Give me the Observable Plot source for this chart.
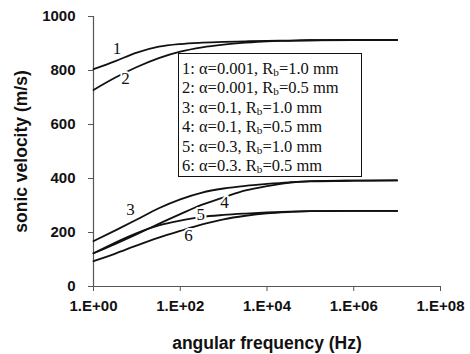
<!DOCTYPE html>
<html>
<head>
<meta charset="utf-8">
<script src="https://cdn.jsdelivr.net/npm/d3@7"></script>
<script src="https://cdn.jsdelivr.net/npm/@observablehq/plot@0.6"></script>
<style>
  body { margin: 0; background: #fff; }
  #wrap { position: relative; width: 470px; height: 354px; }
  #legend {
    position: absolute; left: 178px; top: 53px; width: 184px; height: 124px;
    box-sizing: border-box; border: 1.5px solid #111; background: #fff;
    font-family: "Liberation Serif", "Times New Roman", serif; font-size: 16.5px;
    line-height: 19.4px; padding: 5px 0 0 3px; color: #111; white-space: nowrap;
  }
  #legend sub { font-size: 0.68em; vertical-align: -0.2em; line-height: 0; }
</style>
</head>
<body>
<div id="wrap"><div id="legend"></div></div>
<script>
// angular frequency (Hz)
const freq = [1, 3.2, 10, 32, 100, 320, 1000, 3200, 1e4, 3.2e4, 1e5, 1e6, 1e7];
// sonic velocity (m/s) per curve
const v1 = [805, 835, 866, 888, 898, 903, 906, 908, 910, 911, 912, 913, 913];
const v2 = [728, 774, 813, 846, 870, 886, 896, 903, 908, 910, 912, 913, 913];
const v3 = [168, 208, 248, 290, 323, 348, 363, 373, 380, 386, 390, 392, 393];
const v4 = [123, 158, 194, 232, 268, 303, 330, 356, 372, 384, 389, 392, 393];
const v5 = [123, 163, 198, 226, 244, 258, 265, 270, 274, 277, 279, 280, 280];
const v6 = [94, 122, 152, 181, 206, 230, 249, 262, 271, 276, 279, 280, 280];
const curveIds = ["1", "2", "3", "4", "5", "6"];
const series = [v1, v2, v3, v4, v5, v6];

// curve label anchors (data space)
const labelFreq = [3.5, 5.5, 7.1, 1050, 295, 155];
const labelVel = [881, 770, 285, 311, 267, 187];

// legend
const legendNum = ["1", "2", "3", "4", "5", "6"];
const legendAlpha = ["0.001,", "0.001,", "0.1,", "0.1,", "0.3,", "0.3."];
const legendR = ["1.0", "0.5", "1.0", "0.5", "1.0", "0.5"];

const xTicks = [1, 1e2, 1e4, 1e6, 1e8];
const yTicks = [0, 200, 400, 600, 800, 1000];
const xTitle = "angular frequency (Hz)";
const yTitle = "sonic velocity (m/s)";

const data = [];
series.forEach((s, i) => s.forEach((v, j) => data.push({c: curveIds[i], f: freq[j], v})));
const labels = curveIds.map((id, i) => ({id, f: labelFreq[i], v: labelVel[i]}));

const fmt = d => "1.E+" + String(Math.round(Math.log10(d))).padStart(2, "0");
const sans = "'Liberation Sans', Arial, sans-serif";

const chart = Plot.plot({
  width: 470, height: 354,
  marginLeft: 93, marginRight: 30, marginTop: 16, marginBottom: 68,
  style: {fontFamily: sans, background: "white", color: "#111"},
  x: {type: "log", domain: [1, 1e8]},
  y: {domain: [0, 1000]},
  marks: [
    Plot.axisX({ticks: xTicks, tickFormat: fmt, tickSize: 5, tickPadding: 9, fontSize: 15, fontWeight: "bold",
      label: null, stroke: "#555"}),
    Plot.axisY({ticks: yTicks, tickFormat: d => String(d), tickSize: 5, tickPadding: 13, fontSize: 15, fontWeight: "bold",
      label: null, stroke: "#555"}),
    Plot.text([xTitle], {frameAnchor: "bottom", dy: 57, text: d => d, textAnchor: "middle", lineAnchor: "middle",
      fontSize: 17.5, fontWeight: "bold", fill: "#111"}),
    Plot.text([yTitle], {frameAnchor: "left", dx: -72, rotate: -90, text: d => d, textAnchor: "middle", lineAnchor: "middle",
      fontSize: 17.5, fontWeight: "bold", fill: "#111"}),
    Plot.ruleX([1], {stroke: "#555", strokeWidth: 1.2}),
    Plot.ruleY([0], {stroke: "#555", strokeWidth: 1.2}),
    Plot.line(data, {x: "f", y: "v", z: "c", curve: "monotone-x", stroke: "#111", strokeWidth: 1.8}),
    Plot.text(labels, {x: "f", y: "v", text: "id", fontFamily: "'Liberation Serif', 'Times New Roman', serif",
      fontSize: 17, fill: "#111", stroke: "white", strokeWidth: 4})
  ]
});
const wrap = document.getElementById("wrap");
wrap.insertBefore(chart, wrap.firstChild);

document.getElementById("legend").innerHTML = legendNum.map((n, i) =>
  `<div>${n}: α=${legendAlpha[i]} R<sub>b</sub>=${legendR[i]} mm</div>`).join("");
</script>
</body>
</html>
